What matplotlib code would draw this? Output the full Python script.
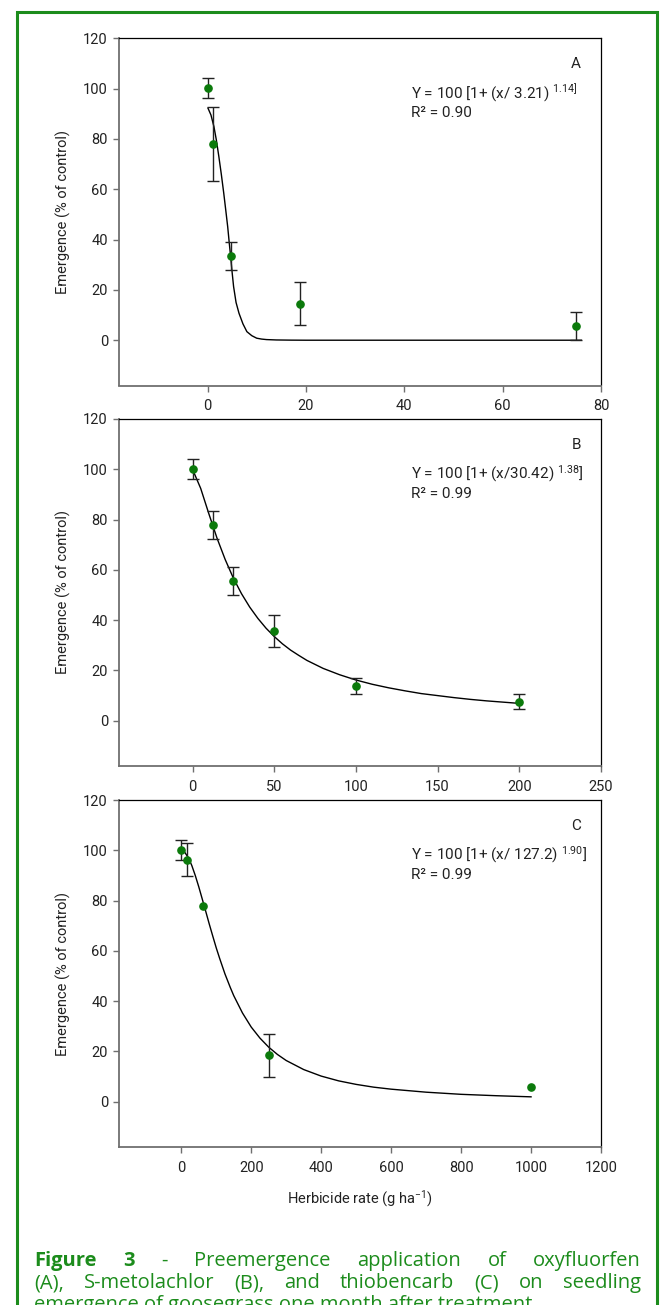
import matplotlib
matplotlib.use("Agg")
import matplotlib.pyplot as plt
from matplotlib.patches import Rectangle

# ---------------- data ----------------
a_rate = [0, 1.17, 4.69, 18.75, 75]
a_emerg = [100.2, 78.0, 33.5, 14.5, 5.7]
a_err = [4.0, 14.6, 5.5, 8.5, 5.5]
a_fit_x = [0.1, 0.7, 1.3, 1.8, 2.3, 2.8, 3.3, 3.7, 4.1, 4.4, 4.7, 5.0, 5.3, 5.8, 6.4, 7.2, 8.0, 9.0, 10.0, 11.0, 12.0, 14.0, 17.0, 20.0, 40.0, 76.0]
a_fit_y = [92.2, 89.5, 84.9, 79.5, 73.0, 66.0, 58.4, 51.8, 45.1, 39.0, 33.2, 27.0, 21.3, 15.0, 10.7, 6.5, 3.4, 1.8, 0.8, 0.45, 0.25, 0.1, 0.03, 0.0, 0.0, 0.0]

b_rate = [0, 12.5, 25, 50, 100, 200]
b_emerg = [100.2, 77.9, 55.6, 35.6, 13.8, 7.5]
b_err = [3.9, 5.5, 5.6, 6.4, 3.0, 3.0]
b_fit_x = [0, 5, 10, 15, 20, 25, 30, 35, 40, 45, 50, 55, 60, 65, 70, 75, 80, 90, 100, 110, 120, 130, 140, 150, 160, 170, 180, 190, 200]
b_fit_y = [100.0, 92.4, 82.3, 72.6, 64.1, 56.7, 50.5, 45.2, 40.7, 36.8, 33.5, 30.6, 28.1, 26.0, 24.0, 22.4, 20.8, 18.3, 16.2, 14.5, 13.1, 11.9, 10.8, 10.0, 9.2, 8.5, 7.9, 7.4, 6.9]

c_rate = [0, 15.6, 62.5, 250, 1000]
c_emerg = [100.0, 96.3, 77.8, 18.5, 5.7]
c_err = [4.0, 6.5, 0.0, 8.5, 0.0]
c_fit_x = [0, 10, 20, 30, 40, 50, 62.5, 70, 80, 90, 100, 110, 125, 140, 150, 175, 200, 225, 250, 275, 300, 350, 400, 450, 500, 550, 600, 700, 800, 900, 1000]
c_fit_y = [100.0, 99.2, 97.1, 94.0, 90.0, 85.5, 79.4, 75.7, 70.7, 65.9, 61.2, 56.9, 50.8, 45.5, 42.2, 35.3, 29.7, 25.3, 21.7, 18.8, 16.4, 12.8, 10.2, 8.3, 6.9, 5.8, 5.0, 3.8, 2.95, 2.4, 1.95]

y_ticks = [0, 20, 40, 60, 80, 100, 120]
a_xticks = [0, 20, 40, 60, 80]
b_xticks = [0, 50, 100, 150, 200, 250]
c_xticks = [0, 200, 400, 600, 800, 1000, 1200]

panel_letters = ["A", "B", "C"]
equations = [
    r"Y = 100 [1+ (x/ 3.21) $^{1.14]}$",
    r"Y = 100 [1+ (x/30.42) $^{1.38}$]",
    r"Y = 100 [1+ (x/ 127.2) $^{1.90}$]",
]
r2_texts = ["R² = 0.90", "R² = 0.99", "R² = 0.99"]

caption_line1 = ["Figure", "3", "-", "Preemergence", "application", "of", "oxyfluorfen"]
caption_line2 = ["(A),", "S-metolachlor", "(B),", "and", "thiobencarb", "(C)", "on", "seedling"]
caption_line3 = "emergence of goosegrass one month after treatment"

# ---------------- style ----------------
plt.rcParams['font.family'] = ['Roboto', 'DejaVu Sans']
plt.rcParams['mathtext.fontset'] = 'custom'
plt.rcParams['mathtext.rm'] = 'Roboto'
plt.rcParams['mathtext.it'] = 'Roboto:italic'
plt.rcParams['mathtext.bf'] = 'Roboto:bold'
plt.rcParams['mathtext.default'] = 'rm'

GREEN = '#1c8c1c'
DOT = '#0b7a0b'
GREY = '#6f6f6f'
NARROW = ['Liberation Sans Narrow', 'Roboto', 'DejaVu Sans']
CAPFONT = ['Open Sans', 'DejaVu Sans']

W, H = 664, 1305
fig = plt.figure(figsize=(W / 100, H / 100), dpi=100)


def px_axes(left, top, right, bottom):
    return fig.add_axes([left / W, 1 - bottom / H, (right - left) / W, (bottom - top) / H])


panels = [
    dict(box=(119, 38.3, 601, 385.5), xlim=(-18, 80), xticks=a_xticks,
         x=a_rate, y=a_emerg, e=a_err, fx=a_fit_x, fy=a_fit_y),
    dict(box=(119, 419, 601, 766), xlim=(-45, 250), xticks=b_xticks,
         x=b_rate, y=b_emerg, e=b_err, fx=b_fit_x, fy=b_fit_y),
    dict(box=(119, 800, 601, 1147), xlim=(-178, 1200), xticks=c_xticks,
         x=c_rate, y=c_emerg, e=c_err, fx=c_fit_x, fy=c_fit_y),
]

axes = []
for i, p in enumerate(panels):
    ax = px_axes(*p['box'])
    axes.append(ax)
    ax.set_xlim(*p['xlim'])
    ax.set_ylim(-18, 120)
    ax.set_xticks(p['xticks'])
    ax.set_yticks(y_ticks)
    for s in ['left', 'bottom']:
        ax.spines[s].set_color(GREY)
        ax.spines[s].set_linewidth(1.3)
    for s in ['top', 'right']:
        ax.spines[s].set_color('black')
        ax.spines[s].set_linewidth(0.9)
    ax.tick_params(direction='out', length=4, width=1, color=GREY,
                   labelsize=10.5, labelcolor='#222222')
    ax.tick_params(axis='x', pad=6)
    ax.tick_params(axis='y', pad=4)

    # fitted curve
    ax.plot(p['fx'], p['fy'], color='black', lw=1.0, zorder=2)
    # error bars (only where there is an error)
    ex = [xv for xv, ev in zip(p['x'], p['e']) if ev > 0]
    ey = [yv for yv, ev in zip(p['y'], p['e']) if ev > 0]
    ee = [ev for ev in p['e'] if ev > 0]
    ax.errorbar(ex, ey, yerr=ee, fmt='none', ecolor='#222222', elinewidth=1.0,
                capsize=4, capthick=1.0, zorder=3)
    ax.plot(p['x'], p['y'], 'o', color=DOT, markersize=5.2, zorder=4)

    ax.text(0.958, 0.925, panel_letters[i], transform=ax.transAxes,
            ha='right', va='center', fontsize=11, color='#222222')
    ax.text(0.606, 0.8425, equations[i], transform=ax.transAxes,
            ha='left', va='center', fontsize=11, color='#222222')
    ax.text(0.606, 0.785, r2_texts[i], transform=ax.transAxes,
            ha='left', va='center', fontsize=11, color='#222222')

    ax.set_ylabel('Emergence (% of control)', fontfamily=NARROW, fontsize=10.5,
                  color='#222222')
    ax.yaxis.set_label_coords(-0.10, 0.5)

axes[2].set_xlabel(r'Herbicide rate (g ha$^{-1}$)', fontfamily=NARROW,
                   fontsize=10.5, color='#222222')
axes[2].xaxis.set_label_coords(0.5, -0.118)

# green frame
fig.patches.append(Rectangle((16.7 / W, -0.02), (657 - 16.7) / W, 1.02 - 12.3 / H,
                             transform=fig.transFigure, fill=False,
                             edgecolor=GREEN, lw=2.2))

# caption (justified)
renderer = fig.canvas.get_renderer()
CAP_FS = 14.5
X0, X1 = 34, 641


def justify(words, ycen, bold_n=0):
    texts = []
    for k, w in enumerate(words):
        t = fig.text(0, 1 - ycen / H, w, fontsize=CAP_FS, color=GREEN, va='center',
                     ha='left', fontfamily=CAPFONT,
                     fontweight='bold' if k < bold_n else 'normal')
        texts.append(t)
    widths = [t.get_window_extent(renderer).width for t in texts]
    gap = (X1 - X0 - sum(widths)) / (len(words) - 1)
    x = X0
    for t, w in zip(texts, widths):
        t.set_x(x / W)
        x += w + gap


justify(caption_line1, 1261, bold_n=2)
justify(caption_line2, 1283)
fig.text(X0 / W, 1 - 1305 / H, caption_line3, fontsize=CAP_FS, color=GREEN,
         va='center', ha='left', fontfamily=CAPFONT)

fig.savefig('out.png', dpi=100)
